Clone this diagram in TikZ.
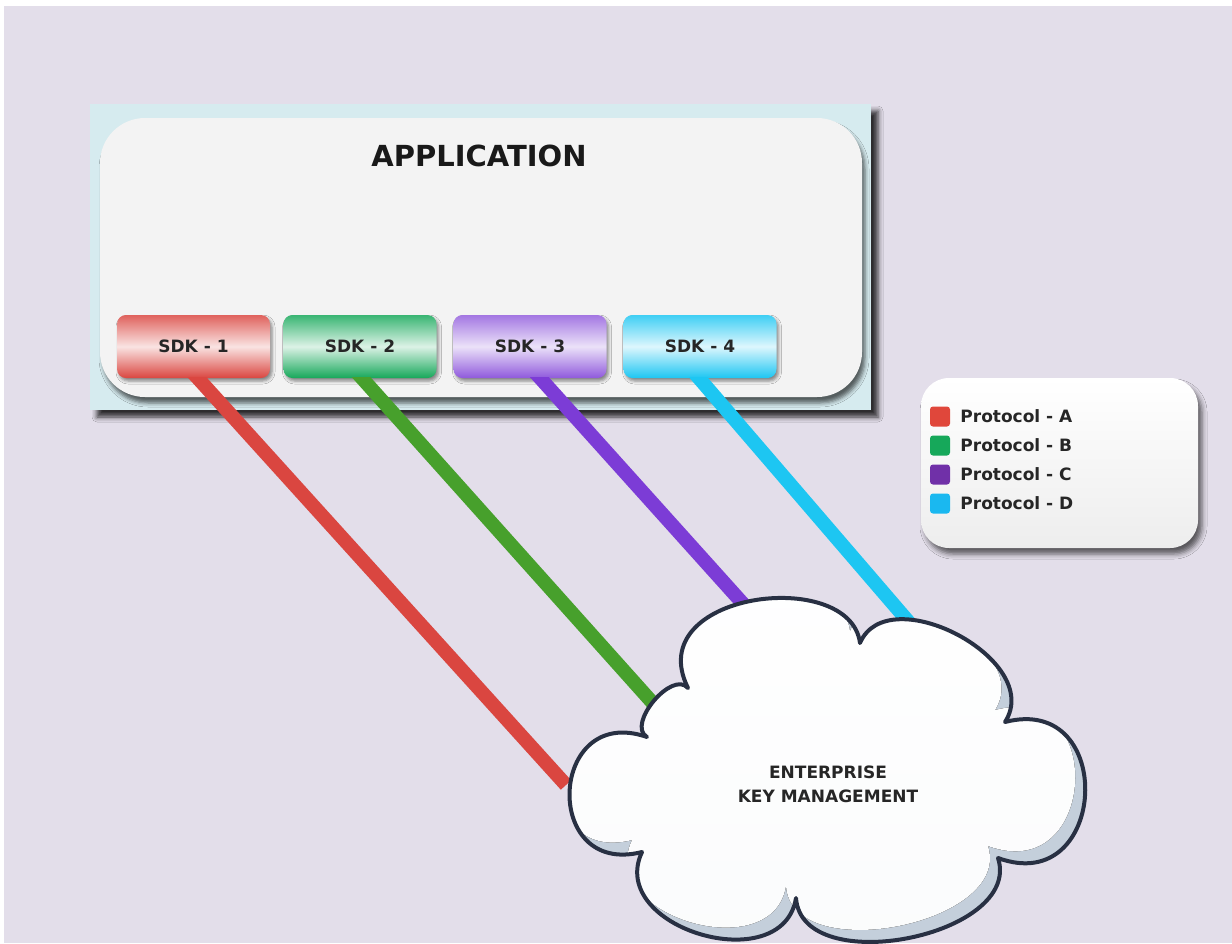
\documentclass[tikz,border=0pt]{standalone}
\usepackage{fontspec}
\setmainfont{DejaVu Sans}
\usetikzlibrary{shadows.blur,positioning}
\definecolor{bgcol}{HTML}{E3DEEA}
\definecolor{outercol}{HTML}{D6EBEF}
\definecolor{innercol}{HTML}{F3F3F3}
\definecolor{cloudline}{HTML}{283043}
\definecolor{cloudshade}{HTML}{C4CFDB}
\definecolor{redA}{HTML}{DA4640}
\definecolor{greenB}{HTML}{47A02C}
\definecolor{purpleC}{HTML}{7C3CD6}
\definecolor{cyanD}{HTML}{1DC6F2}
\definecolor{sqA}{HTML}{E0473B}
\definecolor{sqB}{HTML}{16A85A}
\definecolor{sqC}{HTML}{7030A8}
\definecolor{sqD}{HTML}{1AB8F0}
\def\cloudpath{(688,688) .. controls (640,592) and (850,566) .. (860,643)
 .. controls (887.7,578) and (1045,660) .. (1005,722)
 .. controls (1118,692.7) and (1108,898.5) .. (998,858)
 .. controls (1023.3,936) and (801.7,980) .. (796,898)
 .. controls (782.7,980) and (606,928) .. (642,852)
 .. controls (540.8,877.7) and (548.4,702.7) .. (647,737)
 .. controls (626,724.7) and (672.2,669.5) .. (688,688) -- cycle}
\begin{document}
\begin{tikzpicture}[x=1pt,y=-1pt,
  sdkbox/.style={rounded corners=9pt, minimum width=153pt, minimum height=63pt,
    inner sep=0pt, font=\bfseries\fontsize{17}{20}\selectfont, text=black!85,
    blur shadow={shadow xshift=2pt, shadow yshift=-3pt, shadow opacity=45, shadow blur radius=3pt}},
  link/.style={line width=14pt},
  swatch/.style={minimum size=20pt, inner sep=0pt, rounded corners=3pt},
  legtext/.style={anchor=west, inner sep=0pt, font=\bfseries\fontsize{17}{19}\selectfont, text=black!85},
  cloudtext/.style={align=center, font=\bfseries\fontsize{17}{24}\selectfont, text=black!85}
]
\useasboundingbox (0,0) rectangle (1232,943);

\fill[white] (0,0) rectangle (1232,943);
\fill[bgcol] (4,6) rectangle (1232,943);
\node[fill=outercol, minimum width=781pt, minimum height=306pt, inner sep=0pt,
  blur shadow={shadow xshift=7pt, shadow yshift=-7pt, shadow opacity=80, shadow blur radius=5pt}]
  (appouter) at (480.5,257) {};
\node[fill=innercol, rounded corners=45pt, minimum width=762pt, minimum height=279pt, inner sep=0pt,
  blur shadow={shadow xshift=3pt, shadow yshift=-6pt, shadow opacity=60, shadow blur radius=4pt}]
  (appinner) at (481,257.5) {};

\node[font=\bfseries\fontsize{29}{32}\selectfont, text=black!90] (title) at (479,156) {APPLICATION};

\node[sdkbox, top color=redA!85!white, bottom color=redA, middle color=redA!15!white] (sdk1) at (193.5,346.5) {SDK - 1};
\node[sdkbox, top color=sqB!85!white, bottom color=sqB, middle color=sqB!15!white] (sdk2) at (360,346.5) {SDK - 2};
\node[sdkbox, top color=purpleC!70!white, bottom color=purpleC!85!white, middle color=purpleC!15!white] (sdk3) at (530,346.5) {SDK - 3};
\node[sdkbox, top color=cyanD!85!white, bottom color=cyanD, middle color=cyanD!15!white] (sdk4) at (700,346.5) {SDK - 4};

\coordinate (ekmA) at (566,785);
\coordinate (ekmB) at (659,710);
\coordinate (ekmC) at (746,607);
\coordinate (ekmD) at (913,627);

\begin{scope}
\clip (0,377.5) rectangle (1232,943);
\draw[link, redA] ([shift={(-6.5,-12)}]sdk1.south) -- (ekmA);
\draw[link, greenB] ([shift={(-8.7,-12)}]sdk2.south) -- (ekmB);
\draw[link, purpleC] ([shift={(-0.5,-12)}]sdk3.south) -- (ekmC);
\draw[link, cyanD] ([shift={(-11.3,-12)}]sdk4.south) -- (ekmD);
\end{scope}

% cloud
\fill[cloudshade] \cloudpath;
\begin{scope}
  \clip \cloudpath;
  \fill[top color=white, bottom color=white!92!cloudshade, shift={(-10,-12)}] \cloudpath;
\end{scope}
\draw[cloudline, line width=4pt, line join=round] \cloudpath;
\node[cloudtext] (ekm) at (828,784) {ENTERPRISE\\KEY MANAGEMENT};

% legend
\node[rounded corners=28pt, minimum width=277pt, minimum height=170pt, inner sep=0pt,
  top color=white, bottom color=black!7,
  blur shadow={shadow xshift=4pt, shadow yshift=-6pt, shadow opacity=60, shadow blur radius=5pt}]
  (legend) at (1059.5,463) {};
\node[swatch, fill=sqA] (lgA) at (940,416.5) {};
\node[swatch, fill=sqB] (lgB) at (940,445.5) {};
\node[swatch, fill=sqC] (lgC) at (940,474.5) {};
\node[swatch, fill=sqD] (lgD) at (940,503.5) {};
\node[legtext, right=10pt of lgA] (ltA) {Protocol - A};
\node[legtext, right=10pt of lgB] (ltB) {Protocol - B};
\node[legtext, right=10pt of lgC] (ltC) {Protocol - C};
\node[legtext, right=10pt of lgD] (ltD) {Protocol - D};
\end{tikzpicture}
\end{document}
